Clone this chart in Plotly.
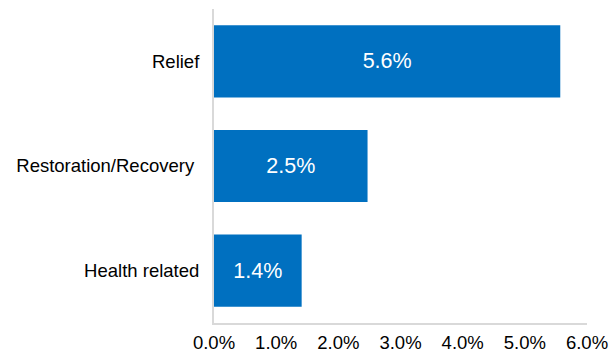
import plotly.graph_objects as go

categories = ["Health related", "Restoration/Recovery\u00a0", "Relief"]
values = [0.0141, 0.0247, 0.0557]
labels = ["1.4%", "2.5%", "5.6%"]
tick_vals = [0, 0.01, 0.02, 0.03, 0.04, 0.05, 0.06]

fig = go.Figure(go.Bar(
    y=categories, x=values, orientation="h",
    marker=dict(color="#0070C0", line=dict(width=0)),
    text=labels, textposition="inside", insidetextanchor="middle",
    textfont=dict(color="white", size=21.5, family="Liberation Sans"),
    hoverinfo="skip",
))

fig.update_layout(
    width=610, height=354,
    margin=dict(l=214, r=23, t=9, b=31),
    paper_bgcolor="white", plot_bgcolor="white",
    bargap=0.31,
    font=dict(family="Liberation Sans", size=18.5, color="#000000"),
    showlegend=False,
    xaxis=dict(range=[0, 0.06], tickvals=tick_vals, tickformat=".1%",
               showgrid=False, zeroline=False, showline=True,
               linecolor="#D9D9D9", linewidth=2, ticks="outside", ticklen=0,
               ticklabelstandoff=2, automargin=False,
               tickfont=dict(size=18.5)),
    yaxis=dict(showgrid=False, zeroline=False, showline=True,
               linecolor="#D9D9D9", linewidth=2, ticks="outside", ticklen=0,
               ticklabelstandoff=9, automargin=False,
               tickfont=dict(size=18.5)),
)

fig.write_html("out.html")
